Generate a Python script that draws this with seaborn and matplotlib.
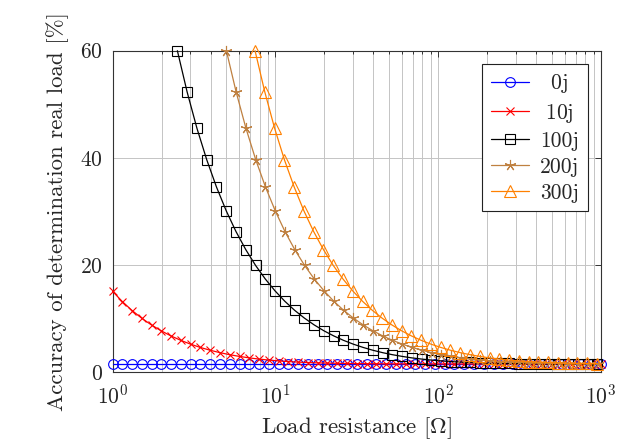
import matplotlib
matplotlib.use("Agg")
import matplotlib.pyplot as plt
import seaborn as sns
import pandas as pd

# Load resistance samples [Ohm] shared by the 0j and 10j loads
r_grid = [1.000, 1.148, 1.318, 1.514, 1.738, 1.995, 2.291, 2.630, 3.020, 3.467,
          3.981, 4.571, 5.248, 6.026, 6.918, 7.943, 9.120, 10.47, 12.02, 13.80,
          15.85, 18.20, 20.89, 23.99, 27.54, 31.62, 36.31, 41.69, 47.86, 54.95,
          63.10, 72.44, 83.18, 95.50, 109.6, 125.9, 144.5, 166.0, 190.5, 218.8,
          251.2, 288.4, 331.1, 380.2, 436.5, 501.2, 575.4, 660.7, 758.6, 871.0,
          1000.0]

pct_0j = [1.50, 1.50, 1.50, 1.50, 1.50, 1.50, 1.50, 1.50, 1.50, 1.50,
          1.50, 1.50, 1.50, 1.50, 1.50, 1.50, 1.50, 1.50, 1.50, 1.50,
          1.50, 1.50, 1.50, 1.50, 1.50, 1.50, 1.50, 1.50, 1.50, 1.50,
          1.50, 1.50, 1.50, 1.50, 1.50, 1.50, 1.50, 1.50, 1.50, 1.50,
          1.50, 1.50, 1.50, 1.50, 1.50, 1.50, 1.50, 1.50, 1.50, 1.50,
          1.50]

pct_10j = [15.07, 13.15, 11.48, 10.02, 8.76, 7.67, 6.72, 5.90, 5.19, 4.58,
           4.06, 3.61, 3.23, 2.91, 2.64, 2.41, 2.23, 2.07, 1.95, 1.85,
           1.77, 1.71, 1.66, 1.63, 1.60, 1.57, 1.56, 1.54, 1.53, 1.52,
           1.52, 1.51, 1.51, 1.51, 1.51, 1.50, 1.50, 1.50, 1.50, 1.50,
           1.50, 1.50, 1.50, 1.50, 1.50, 1.50, 1.50, 1.50, 1.50, 1.50,
           1.50]

r_100j = [2.500, 2.870, 3.296, 3.784, 4.345, 4.988, 5.727, 6.576, 7.550, 8.669,
          9.953, 11.43, 13.12, 15.07, 17.30, 19.86, 22.80, 26.18, 30.06, 34.51,
          39.63, 45.50, 52.24, 59.98, 68.86, 79.06, 90.78, 104.2, 119.7, 137.4,
          157.7, 181.1, 207.9, 238.7, 274.1, 314.7, 361.3, 414.8, 476.3, 546.8,
          627.8, 720.8, 827.6, 950.2]
pct_100j = [60.0, 52.29, 45.53, 39.67, 34.56, 30.11, 26.23, 22.86, 19.92, 17.37,
            15.15, 13.21, 11.53, 10.07, 8.80, 7.70, 6.75, 5.92, 5.21, 4.60,
            4.07, 3.62, 3.24, 2.92, 2.64, 2.42, 2.23, 2.08, 1.95, 1.86,
            1.78, 1.71, 1.66, 1.63, 1.60, 1.57, 1.56, 1.54, 1.53, 1.52,
            1.52, 1.51, 1.51, 1.51]

r_200j = [5.000, 5.740, 6.592, 7.568, 8.690, 9.976, 11.45, 13.15, 15.10, 17.34,
          19.91, 22.86, 26.24, 30.14, 34.60, 39.72, 45.60, 52.36, 60.12, 69.02,
          79.26, 91.00, 104.5, 120.0, 137.7, 158.1, 181.6, 208.4, 239.4, 274.8,
          315.4, 362.2, 415.8, 477.4, 548.2, 629.4, 722.6, 829.6, 952.6]
pct_200j = [60.0, 52.29, 45.53, 39.67, 34.56, 30.11, 26.23, 22.86, 19.92, 17.37,
            15.15, 13.21, 11.53, 10.07, 8.80, 7.70, 6.75, 5.92, 5.21, 4.60,
            4.07, 3.62, 3.24, 2.92, 2.64, 2.42, 2.23, 2.08, 1.95, 1.86,
            1.78, 1.71, 1.66, 1.63, 1.60, 1.57, 1.56, 1.54, 1.53]

r_300j = [7.500, 8.610, 9.888, 11.35, 13.04, 14.96, 17.18, 19.73, 22.65, 26.01,
          29.86, 34.29, 39.36, 45.21, 51.90, 59.58, 68.40, 78.54, 90.18, 103.5,
          118.9, 136.5, 156.7, 179.9, 206.6, 237.2, 272.3, 312.6, 359.1, 412.2,
          473.1, 543.3, 623.7, 716.1, 822.3, 944.1]
pct_300j = [60.0, 52.29, 45.53, 39.67, 34.56, 30.11, 26.23, 22.86, 19.92, 17.37,
            15.15, 13.21, 11.53, 10.07, 8.80, 7.70, 6.75, 5.92, 5.21, 4.60,
            4.07, 3.62, 3.24, 2.92, 2.64, 2.42, 2.23, 2.08, 1.95, 1.86,
            1.78, 1.71, 1.66, 1.63, 1.60, 1.57]

series_labels = ["0j", "10j", "100j", "200j", "300j"]
y_ticks = [0, 20, 40, 60]

sns.set_style("white")
plt.rcParams["font.family"] = ["cmr10", "DejaVu Serif"]
plt.rcParams["mathtext.fontset"] = "cm"
plt.rcParams["axes.formatter.use_mathtext"] = True

fig = plt.figure(figsize=(6.29, 4.45), dpi=100)
ax = fig.add_axes([0.179, 0.164, 0.7765, 0.722])

styles = [
    dict(marker="o", color="#0000ff", ms=7.0),
    dict(marker="x", color="#ff0000", ms=6.0),
    dict(marker="s", color="#000000", ms=7.0),
    dict(marker=(5, 2, 0), color="#bf8040", ms=8.0),
    dict(marker="^", color="#ff8000", ms=8.0),
]
xs = [r_grid, r_grid, r_100j, r_200j, r_300j]
ys = [pct_0j, pct_10j, pct_100j, pct_200j, pct_300j]

# Show the centred legend entries with the same text width
pads = {"0j": 0.57, "10j": 0.285}

for label, x, y, st in zip(series_labels, xs, ys, styles):
    df = pd.DataFrame({"R": x, "acc": y})
    p = pads.get(label, 0)
    shown = (r"$\hspace{%g}$%s$\hspace{%g}$" % (p, label, p)) if p else label
    sns.lineplot(data=df, x="R", y="acc", ax=ax, sort=False, errorbar=None,
                 color=st["color"], linewidth=0.9, marker=st["marker"],
                 markersize=st["ms"], markerfacecolor="none",
                 markeredgecolor=st["color"], markeredgewidth=0.8,
                 label=shown, clip_on=False, zorder=3)

ax.set_xscale("log")
ax.set_xlim(1, 1000)
ax.set_ylim(0, 60)
ax.set_yticks(y_ticks)

ax.grid(which="both", axis="x", color="#c4c4c4", linewidth=0.7)
ax.grid(which="major", axis="y", color="#c4c4c4", linewidth=0.7)
ax.set_axisbelow(True)

for s in ax.spines.values():
    s.set_color("#333333")
    s.set_linewidth(0.8)
    s.set_zorder(2.5)

ax.tick_params(which="both", direction="in", top=True, right=True,
               color="#333333", width=0.7)
ax.tick_params(which="major", length=4.0, labelsize=15.5, pad=7)
ax.tick_params(which="minor", length=2.2)
ax.tick_params(axis="x", which="major", pad=8)

ax.set_xlabel(r"Load resistance [$\Omega$]", fontsize=16.5, labelpad=6)
ax.set_ylabel("Accuracy of determination real load [%]", fontsize=16.5,
              labelpad=8)

leg = ax.legend(loc="upper right", fontsize=15.5, frameon=True, fancybox=False,
                framealpha=1, edgecolor="#222222", handlelength=1.8,
                handletextpad=0.5, labelspacing=0.3, borderpad=0.4,
                borderaxespad=0.6)
leg.get_frame().set_linewidth(0.8)
leg.set_zorder(5)

fig.savefig("out.png", dpi=100)
